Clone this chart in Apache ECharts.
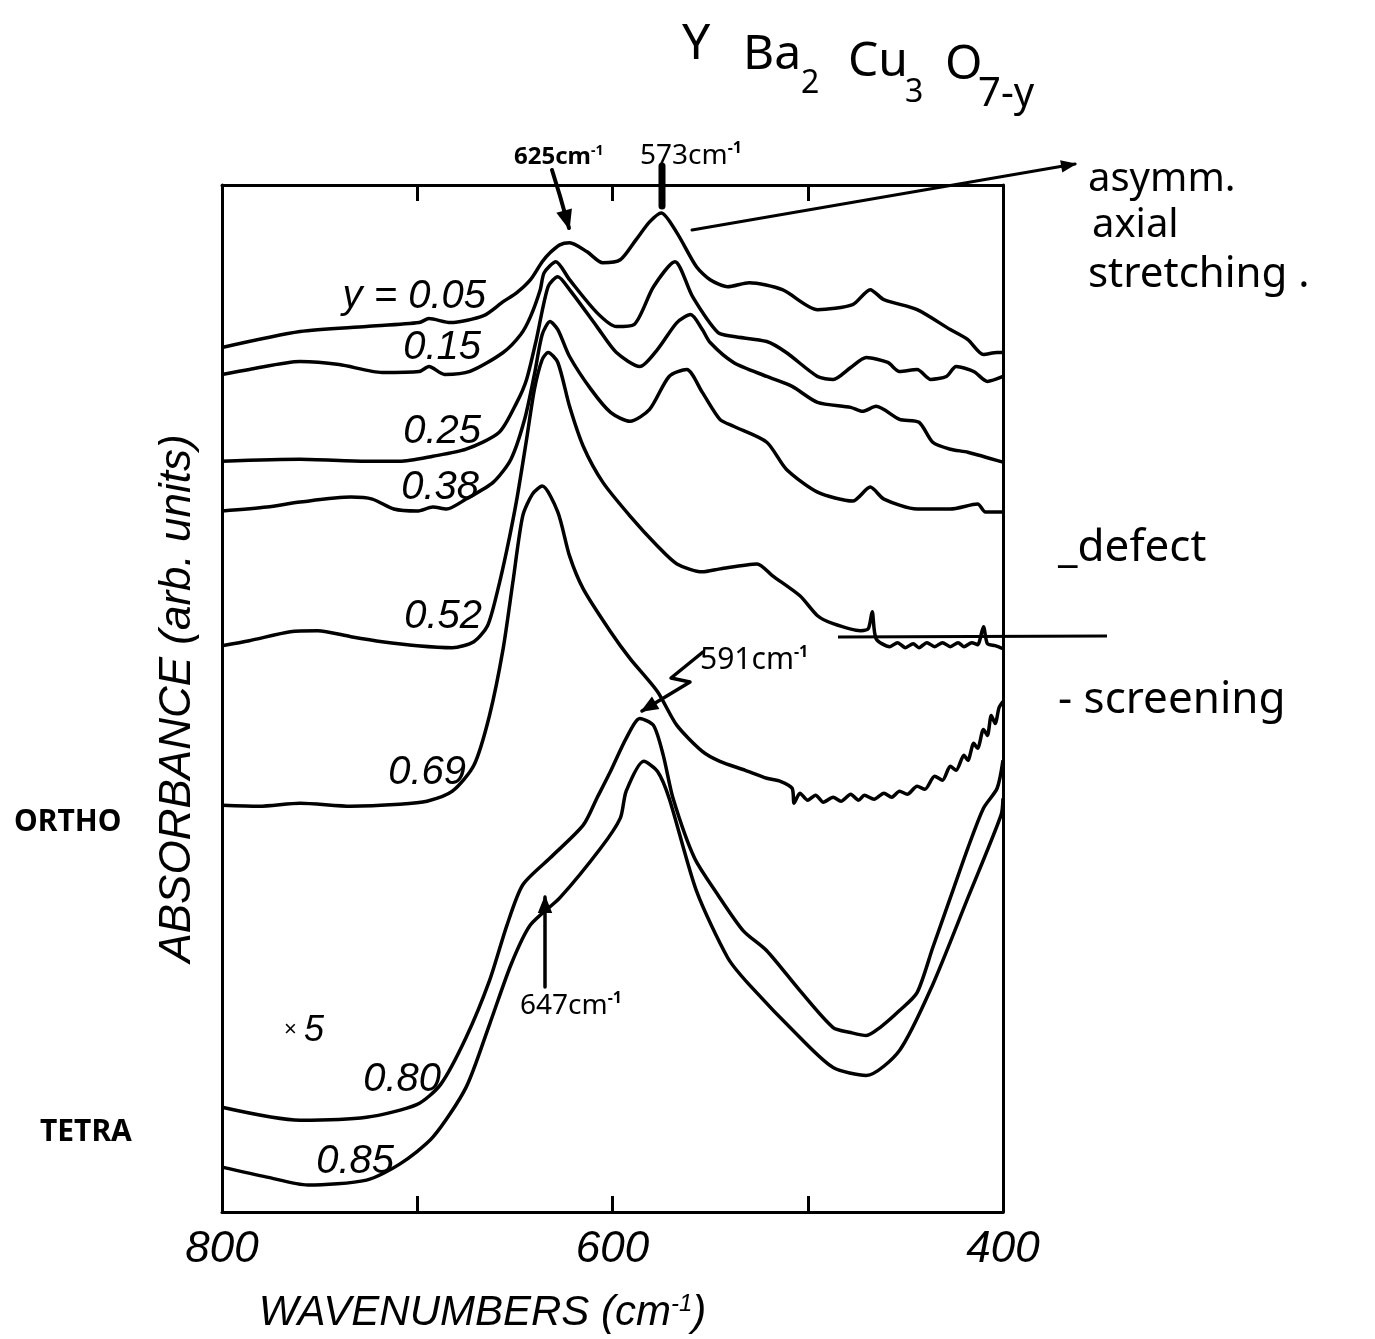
<!DOCTYPE html>
<html><head><meta charset="utf-8">
<script src="https://cdn.jsdelivr.net/npm/echarts@6.0.0/dist/echarts.min.js"></script>
<style>html,body{margin:0;padding:0;background:#fff}#c{width:1375px;height:1339px}</style>
</head><body><div id="c"></div>
<script>
// ---- data: [wavenumber (cm^-1), absorbance (arb. units, offset traces)] ----
const curveNames = ['y = 0.05','0.15','0.25','0.38','0.52','0.69','0.80','0.85'];
const xTickLabels = {800:'800', 600:'600', 400:'400'};

const y005 = [[800,867],[760,883],[726,888],[699,892],[694,896],[683,892],[666,899],[656,913],[649,922],[642,935],[636,953],[632,962],[627,970],[622,972],[613,963],[605,952],[596,955],[588,975],[581,993],[575,1002],[567,982],[557,948],[550,935],[541,928],[530,932],[513,925],[495,905],[477,910],[468,925],[461,915],[444,905],[427,885],[418,875],[410,860],[403,862],[400,862]];
const y015 = [[800,840],[786,845],[760,853],[740,850],[718,842],[699,843],[694,848],[686,840],[673,843],[656,862],[647,880],[642,898],[637,925],[635,942],[629,953],[622,935],[608,902],[598,888],[589,890],[579,928],[568,953],[559,918],[546,882],[538,878],[521,873],[511,862],[495,838],[487,835],[478,847],[470,857],[459,852],[453,843],[444,845],[437,835],[429,838],[424,848],[415,843],[408,833],[400,838]];
const y025 = [[800,753],[760,755],[726,753],[709,753],[692,758],[675,765],[658,782],[649,812],[644,835],[639,875],[633,928],[628,938],[622,925],[608,888],[598,862],[586,848],[577,865],[567,892],[560,900],[554,885],[550,872],[538,852],[521,838],[508,828],[495,812],[478,807],[472,803],[465,808],[453,795],[443,792],[436,772],[427,765],[418,762],[400,752]];
const y038 = [[800,703],[777,707],[760,712],[734,717],[723,715],[712,705],[700,703],[692,707],[685,705],[675,715],[661,732],[652,755],[645,795],[640,840],[636,880],[632,893],[628,885],[622,858],[611,825],[601,802],[591,793],[581,805],[571,838],[562,845],[554,822],[545,795],[538,788],[521,772],[511,745],[495,722],[477,713],[468,727],[461,715],[444,705],[427,705],[413,710],[409,702],[400,702]];
const y052 = [[800,568],[786,573],[765,582],[751,583],[734,577],[718,572],[700,568],[682,566],[671,572],[664,588],[659,622],[654,665],[649,715],[644,775],[640,825],[636,855],[633,862],[628,852],[622,808],[615,768],[605,732],[591,698],[577,668],[567,650],[554,642],[545,645],[526,650],[518,638],[504,618],[495,598],[487,590],[473,583],[469,585],[467,602],[465,575],[458,567],[454,571],[450,566],[446,570],[443,566],[439,571],[435,567],[431,571],[427,567],[423,571],[420,567],[416,571],[413,569],[410,587],[408,570],[404,568],[400,565]];
const y069 = [[800,408],[781,407],[760,410],[734,407],[709,409],[695,412],[682,422],[671,448],[663,498],[656,565],[651,632],[646,698],[641,720],[636,728],[628,702],[622,658],[615,625],[601,582],[591,555],[577,522],[567,488],[554,462],[545,452],[532,443],[521,435],[514,432],[508,425],[507,410],[504,420],[500,413],[496,418],[492,411],[487,416],[483,412],[478,419],[474,413],[471,418],[466,414],[461,420],[457,416],[453,422],[449,419],[444,427],[440,424],[435,437],[431,433],[427,447],[424,443],[420,458],[418,453],[415,470],[413,465],[410,484],[408,478],[406,498],[404,490],[402,506],[400,512]];
const y080 = [[800,105],[760,92],[726,95],[700,108],[688,128],[675,175],[663,232],[654,288],[646,328],[632,355],[615,388],[608,415],[601,442],[593,475],[586,495],[579,488],[574,458],[569,415],[558,355],[546,318],[533,282],[521,262],[504,222],[487,185],[478,180],[470,177],[463,185],[453,202],[444,220],[436,265],[427,315],[418,365],[410,405],[403,425],[400,453]];
const y085 = [[800,45],[777,35],[756,27],[726,32],[709,48],[692,75],[675,125],[663,188],[652,248],[642,288],[627,315],[606,365],[596,395],[593,422],[584,452],[577,442],[571,415],[557,322],[541,255],[530,228],[504,175],[487,145],[470,137],[453,162],[436,228],[418,315],[401,398],[400,415]];
const curves = [y005, y015, y025, y038, y052, y069, y080, y085];

const chart = echarts.init(document.getElementById('c'), null, {renderer:'canvas'});
const NUM = 'Liberation Sans, Arial, sans-serif';
const HAND = 'Noto Sans, DejaVu Sans, sans-serif';

function arrowEls(pts, head, width) {
  const els = [{type:'polyline', shape:{points:pts}, style:{stroke:'#000', lineWidth:width, fill:null, lineJoin:'round', lineCap:'round'}}];
  if (head) {
    const [x1,y1] = pts[pts.length-2], [x2,y2] = pts[pts.length-1];
    const a = Math.atan2(y2-y1, x2-x1), L = head, W = head*0.45;
    els.push({type:'polygon', shape:{points:[[x2+2*Math.cos(a),y2+2*Math.sin(a)],
      [x2-L*Math.cos(a)+W*Math.sin(a), y2-L*Math.sin(a)-W*Math.cos(a)],
      [x2-L*Math.cos(a)-W*Math.sin(a), y2-L*Math.sin(a)+W*Math.cos(a)]]}, style:{fill:'#000'}});
  }
  return els;
}
function txt(text, x, y, size, opts) {
  opts = opts || {};
  return {type:'text', style:Object.assign({text:text, x:x, y:y, fill:'#000', fontSize:size,
    fontFamily:opts.family || HAND, fontStyle:opts.italic ? 'italic':'normal', fontWeight:opts.weight || 'normal',
    align:opts.align || 'left', verticalAlign:'middle'}, opts.rich ? {rich:opts.rich} : {})};
}
const supRich = s => ({sup:{fontSize:s, verticalAlign:'top', padding:[0,0,s*0.9,0], fontFamily:HAND, fontWeight:'bold'}});

// curve labels (italic)
const labelPos = [[486,297],[481,348],[481,432],[479,488],[482,617],[466,773],[441,1080],[394,1162]];
const graphics = [];
curveNames.forEach((n,i) => graphics.push(txt(n, labelPos[i][0], labelPos[i][1], 40, {family:NUM, italic:true, align:'right'})));
graphics.push(txt('×', 284, 1030, 22, {family:NUM}));
graphics.push(txt('5', 304, 1031, 36, {family:NUM, italic:true}));

// title formula
graphics.push(txt('Y', 682, 45, 50));
graphics.push(txt('Ba', 743, 55, 48));
graphics.push(txt('2', 801, 84, 32));
graphics.push(txt('Cu', 848, 62, 48));
graphics.push(txt('3', 905, 93, 32));
graphics.push(txt('O', 945, 65, 48));
graphics.push(txt('7-y', 978, 95, 40));

// peak annotations
graphics.push(txt('625cm{sup|-1}', 514, 157, 24, {weight:'bold', rich:supRich(14)}));
graphics.push(txt('573cm{sup|-1}', 640, 156, 28, {rich:supRich(16)}));
graphics.push(...arrowEls([[552,170],[560,196],[569,228]], 18, 4));
graphics.push({type:'line', shape:{x1:662, y1:166, x2:662, y2:206}, style:{stroke:'#000', lineWidth:7, lineCap:'round'}});
graphics.push(...arrowEls([[692,230],[1075,164]], 14, 3));
graphics.push(txt('asymm.', 1088, 180, 40));
graphics.push(txt('axial', 1092, 226, 40));
graphics.push(txt('stretching .', 1088, 275, 42));
graphics.push(txt('_defect', 1058, 548, 44));
graphics.push({type:'line', shape:{x1:838, y1:637, x2:1107, y2:636}, style:{stroke:'#000', lineWidth:3}});
graphics.push(txt('- screening', 1058, 700, 44));
graphics.push(txt('591cm{sup|-1}', 700, 660, 30, {rich:supRich(16)}));
graphics.push(...arrowEls([[703,652],[671,678],[690,682],[642,711]], 16, 3.5));
graphics.push(...arrowEls([[545,987],[545,897]], 16, 3.5));
graphics.push(txt('647cm{sup|-1}', 520, 1006, 28, {rich:supRich(16)}));
graphics.push(txt('ORTHO', 14, 822, 30, {weight:'bold'}));
graphics.push(txt('TETRA', 40, 1132, 30, {weight:'bold'}));

const axisBase = {type:'value', min:400, max:800, interval:100, inverse:true,
  axisLine:{show:true, onZero:false, lineStyle:{color:'#000', width:3}},
  axisTick:{show:true, inside:true, length:16, lineStyle:{color:'#000', width:3}},
  splitLine:{show:false}};

chart.setOption({
  animation:false,
  backgroundColor:'#fff',
  grid:{left:222, right:372, top:185, bottom:124, containLabel:false},
  xAxis:[
    Object.assign({}, axisBase, {position:'bottom',
      axisLabel:{formatter:v => xTickLabels[v] || '', fontStyle:'italic', fontSize:44, color:'#000', fontFamily:NUM, margin:16},
      name:'WAVENUMBERS (cm{sup|-1})', nameLocation:'middle', nameGap:80,
      nameTextStyle:{fontStyle:'italic', fontSize:42, color:'#000', fontFamily:NUM, verticalAlign:'top', padding:[0,260,0,0],
        rich:{sup:{fontSize:24, fontStyle:'italic', fontFamily:NUM, verticalAlign:'top', padding:[0,0,18,0]}}}}),
    Object.assign({}, axisBase, {position:'top', axisLabel:{show:false}})
  ],
  yAxis:[
    {type:'value', min:0, max:1030, position:'left', axisLine:{show:true, onZero:false, lineStyle:{color:'#000', width:3}},
      axisTick:{show:false}, axisLabel:{show:false}, splitLine:{show:false},
      name:'ABSORBANCE (arb. units)', nameLocation:'middle', nameGap:22, nameRotate:90,
      nameTextStyle:{fontStyle:'italic', fontSize:44, color:'#000', fontFamily:NUM}},
    {type:'value', min:0, max:1030, position:'right', axisLine:{show:true, onZero:false, lineStyle:{color:'#000', width:3}},
      axisTick:{show:false}, axisLabel:{show:false}, splitLine:{show:false}}
  ],
  series: curves.map((d,i) => ({type:'line', name:curveNames[i], data:d, xAxisIndex:0, yAxisIndex:0,
    showSymbol:false, smooth:0.25, lineStyle:{color:'#000', width:3.5}, silent:true})),
  graphic: graphics
});
</script></body></html>
